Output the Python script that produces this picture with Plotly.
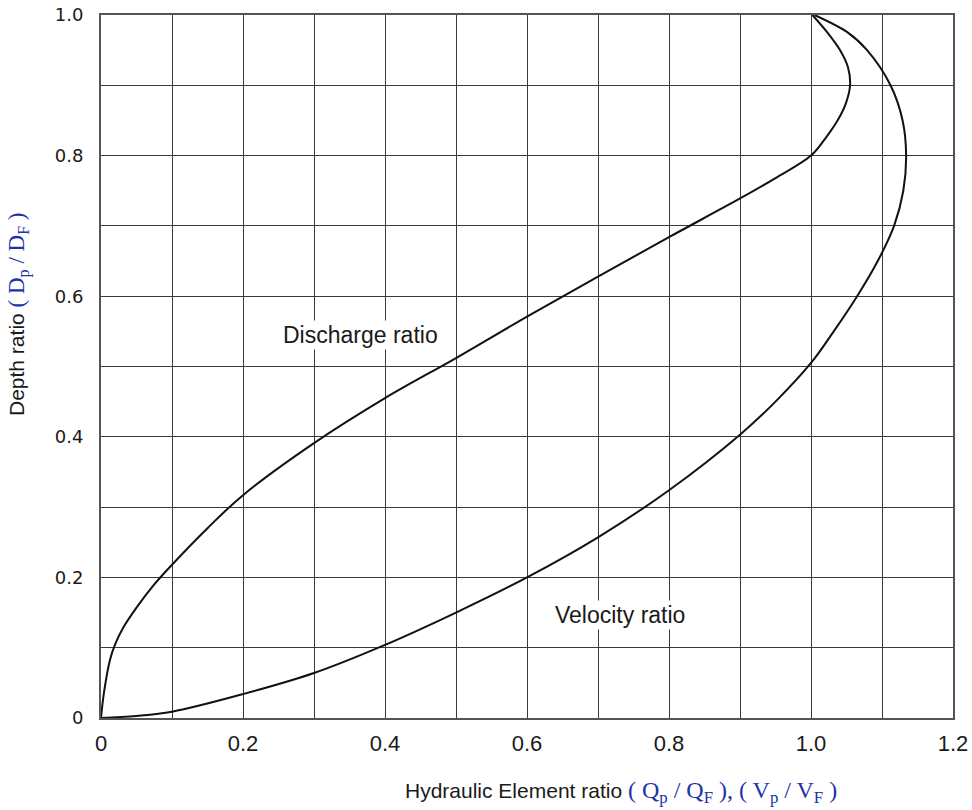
import plotly.graph_objects as go

# Discharge ratio curve (Qp/QF) vs depth ratio (Dp/DF)
discharge_ratio = [0.0, 0.004, 0.0127, 0.02, 0.031, 0.05, 0.075, 0.10, 0.15, 0.20,
                   0.30, 0.40, 0.50, 0.60, 0.70, 0.80, 0.90, 0.95, 1.0, 1.022,
                   1.038, 1.049, 1.055, 1.052, 1.041, 1.024, 1.002]
discharge_depth = [0.0, 0.035, 0.083, 0.105, 0.128, 0.157, 0.19, 0.218, 0.27, 0.317,
                   0.391, 0.455, 0.512, 0.571, 0.628, 0.684, 0.739, 0.768, 0.80, 0.827,
                   0.851, 0.874, 0.90, 0.926, 0.95, 0.974, 1.0]

# Velocity ratio curve (Vp/VF) vs depth ratio (Dp/DF)
velocity_ratio = [0.0, 0.05, 0.10, 0.20, 0.30, 0.40, 0.50, 0.60, 0.70, 0.80, 0.90,
                  0.95, 1.0, 1.032, 1.065, 1.094, 1.117, 1.130, 1.134, 1.129, 1.112,
                  1.079, 1.052, 1.005]
velocity_depth = [0.0, 0.003, 0.009, 0.034, 0.064, 0.104, 0.15, 0.20, 0.257, 0.324, 0.403,
                  0.45, 0.505, 0.55, 0.60, 0.65, 0.70, 0.75, 0.80, 0.85, 0.90,
                  0.95, 0.975, 1.0]

x_tickvals = [0, 0.2, 0.4, 0.6, 0.8, 1.0, 1.2]
x_ticktext = ["0", "0.2", "0.4", "0.6", "0.8", "1.0", "1.2"]
y_tickvals = [0, 0.2, 0.4, 0.6, 0.8, 1.0]
y_ticktext = ["0", "0.2", "0.4", "0.6", "0.8", "1.0"]

GRID = "#3a3a3a"
BLUE = "#2233aa"

fig = go.Figure()
fig.add_trace(go.Scatter(x=discharge_ratio, y=discharge_depth, mode="lines",
                         line=dict(color="#111111", width=2, shape="spline", smoothing=1.0),
                         name="Discharge ratio", showlegend=False, hoverinfo="skip"))
fig.add_trace(go.Scatter(x=velocity_ratio, y=velocity_depth, mode="lines",
                         line=dict(color="#111111", width=2, shape="spline", smoothing=1.0),
                         name="Velocity ratio", showlegend=False, hoverinfo="skip"))

axis_common = dict(showgrid=True, gridcolor=GRID, gridwidth=1.3, zeroline=False,
                   showline=True, mirror=True, linecolor="#555555", linewidth=2,
                   ticks="", tickmode="array", automargin=False,
                   minor=dict(tickmode="linear", tick0=0, dtick=0.1, showgrid=True,
                              gridcolor=GRID, gridwidth=1.3, ticks=""))

fig.update_xaxes(range=[0, 1.2], tickvals=x_tickvals, ticktext=x_ticktext,
                 tickfont=dict(family="Liberation Sans, Arial, sans-serif", size=22, color="#1a1a1a"),
                 ticklabelstandoff=5, **axis_common)
fig.update_yaxes(range=[0, 1.0], tickvals=y_tickvals, ticktext=y_ticktext,
                 tickfont=dict(family="DejaVu Sans, Verdana, sans-serif", size=18, color="#1a1a1a"),
                 ticklabelstandoff=12, **axis_common)

W, H = 972, 810
L, R, T, B = 101, 19, 15, 92
pw, ph = W - L - R, H - T - B

def px(xp):
    return (xp - L) / pw

def py(yp):
    return (H - B - yp) / ph

fig.add_annotation(x=0.365, y=0.545, xref="x", yref="y", text="Discharge ratio",
                   showarrow=False, font=dict(family="Liberation Sans, Arial", size=23, color="#1a1a1a"),
                   bgcolor="white")
fig.add_annotation(x=0.731, y=0.147, xref="x", yref="y", text="Velocity ratio",
                   showarrow=False, font=dict(family="Liberation Sans, Arial", size=23, color="#1a1a1a"),
                   bgcolor="white")

xtitle = ("Hydraulic Element ratio "
          f"<span style='font-family:Liberation Serif, Times New Roman, serif; color:{BLUE}; font-size:24px'>"
          "( Q<sub>p</sub> / Q<sub>F</sub> ), ( V<sub>p</sub> / V<sub>F</sub> )</span>")
fig.add_annotation(x=px(403), y=py(792), xref="paper", yref="paper", text=xtitle,
                   xanchor="left", yanchor="middle", showarrow=False,
                   font=dict(family="Liberation Sans, Arial", size=21, color="#1a1a1a"))

ytitle = ("Depth ratio "
          f"<span style='font-family:Liberation Serif, Times New Roman, serif; color:{BLUE}; font-size:23px'>"
          "( D<sub>p</sub> / D<sub>F</sub> )</span>")
fig.add_annotation(x=px(18), y=py(314), xref="paper", yref="paper", text=ytitle,
                   textangle=-90, xanchor="center", yanchor="middle", showarrow=False,
                   font=dict(family="Liberation Sans, Arial", size=21, color="#1a1a1a"))

fig.update_layout(width=W, height=H, margin=dict(l=L, r=R, t=T, b=B, autoexpand=False),
                  paper_bgcolor="white", plot_bgcolor="white")

# remove the default 8px page margin so the figure sits at the window's top-left corner
fig.write_html("out.html", config={"displayModeBar": False},
               post_script="document.body.style.margin='0';document.body.style.overflow='hidden';")
